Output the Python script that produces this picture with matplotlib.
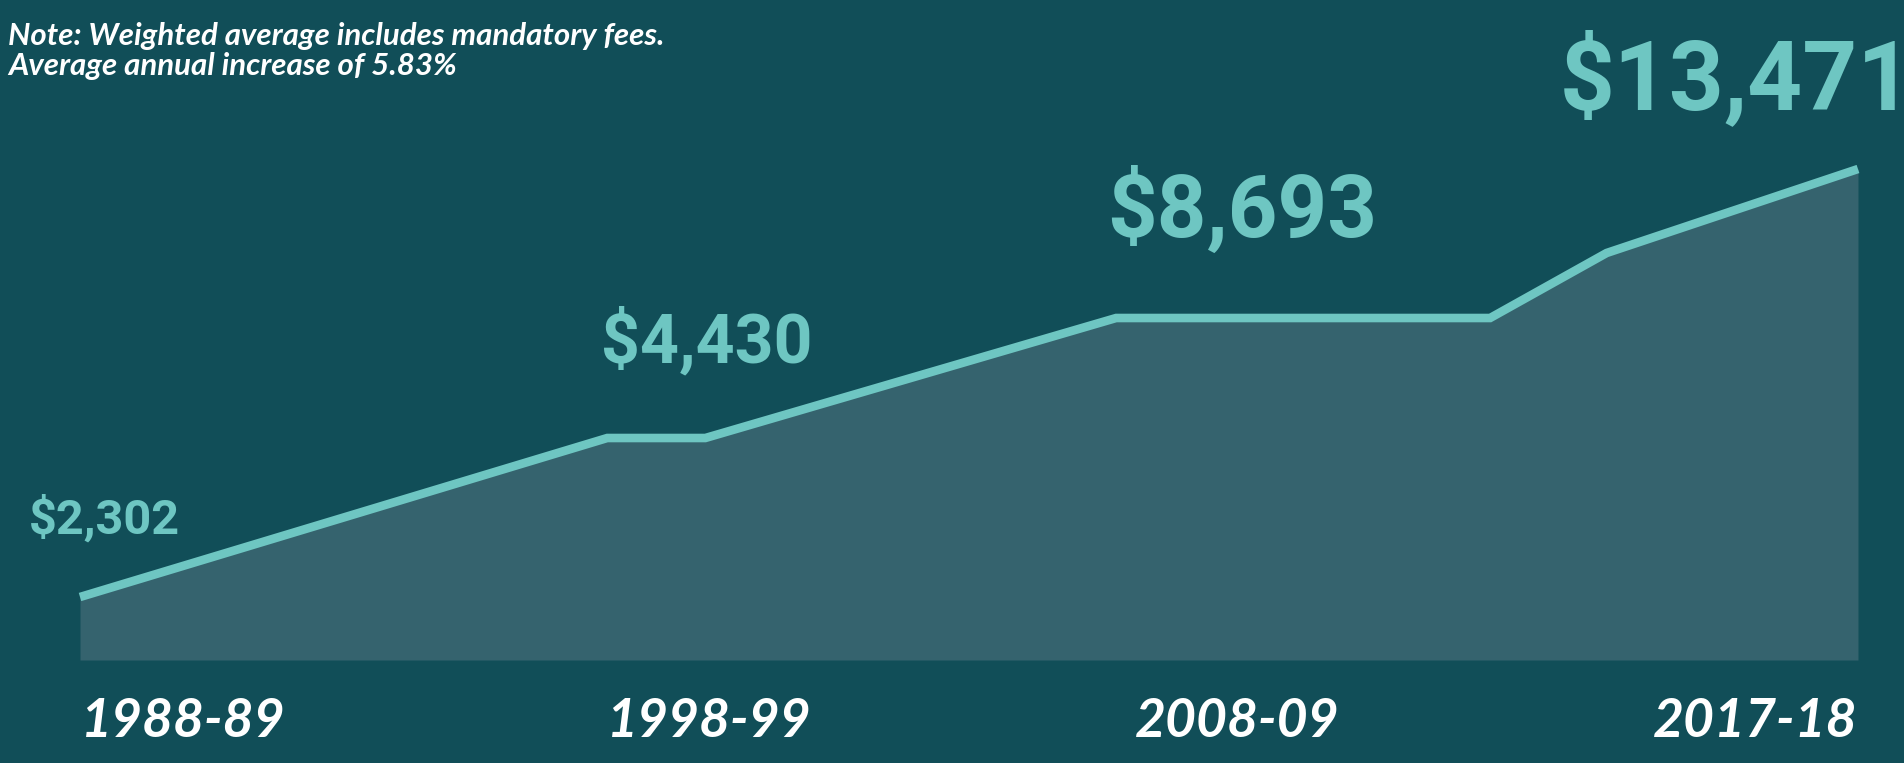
import matplotlib
matplotlib.use("Agg")
import matplotlib.pyplot as plt

# ── Data (x = years after 1988-89, y = drawn level above baseline) ───────────
x_pos = [0.0, 8.6, 10.2, 16.9, 23.0, 24.9, 29.0]
level = [63, 222, 222, 342, 342, 407, 491]

value_labels = ["$2,302", "$4,430", "$8,693", "$13,471"]
value_x = [-0.83, 8.5, 16.75, 24.14]
value_y = [126, 298, 423, 551]
value_size = [35, 49, 62.5, 69]

year_labels = ["1988-89", "1998-99", "2008-09", "2017-18"]
year_x = [0.02, 8.6, 17.2, 29.0]
year_ha = ["left", "left", "left", "right"]

note_lines = ["Note: Weighted average includes mandatory fees.",
              "Average annual increase of 5.83%"]

# ── Colours ──────────────────────────────────────────────────────────────────
BG = "#114e58"
FILL = "#35636e"
LINE = "#6ec6c2"

fig = plt.figure(figsize=(19.04, 7.63), dpi=100, facecolor=BG)
ax = fig.add_axes([0, 0, 1, 1])
ax.set_facecolor(BG)
ax.set_xlim(-80 / 61.31, (1904 - 80) / 61.31)
ax.set_ylim(-103, 660)
ax.axis("off")

ax.fill_between(x_pos, 0, level, color=FILL, lw=0)
ax.plot(x_pos, level, color=LINE, lw=6.2,
        solid_capstyle="butt", solid_joinstyle="miter")

for txt, xv, yv, fs in zip(value_labels, value_x, value_y, value_size):
    ax.text(xv, yv, txt, color=LINE, fontsize=fs, fontweight="bold",
            family="Roboto", ha="left", va="baseline")

for txt, xv, ha in zip(year_labels, year_x, year_ha):
    ax.text(xv, -77, txt, color="white", fontsize=38.5, fontweight="bold",
            fontstyle="italic", family="Lato", ha=ha, va="baseline")

for i, line in enumerate(note_lines):
    fig.text(8 / 1904, 1 - (45 + 30 * i) / 763, line, color="white",
             fontsize=22.5, fontweight="bold", fontstyle="italic",
             family="Lato", ha="left", va="baseline")

fig.savefig("out.png", dpi=100, facecolor=BG)
